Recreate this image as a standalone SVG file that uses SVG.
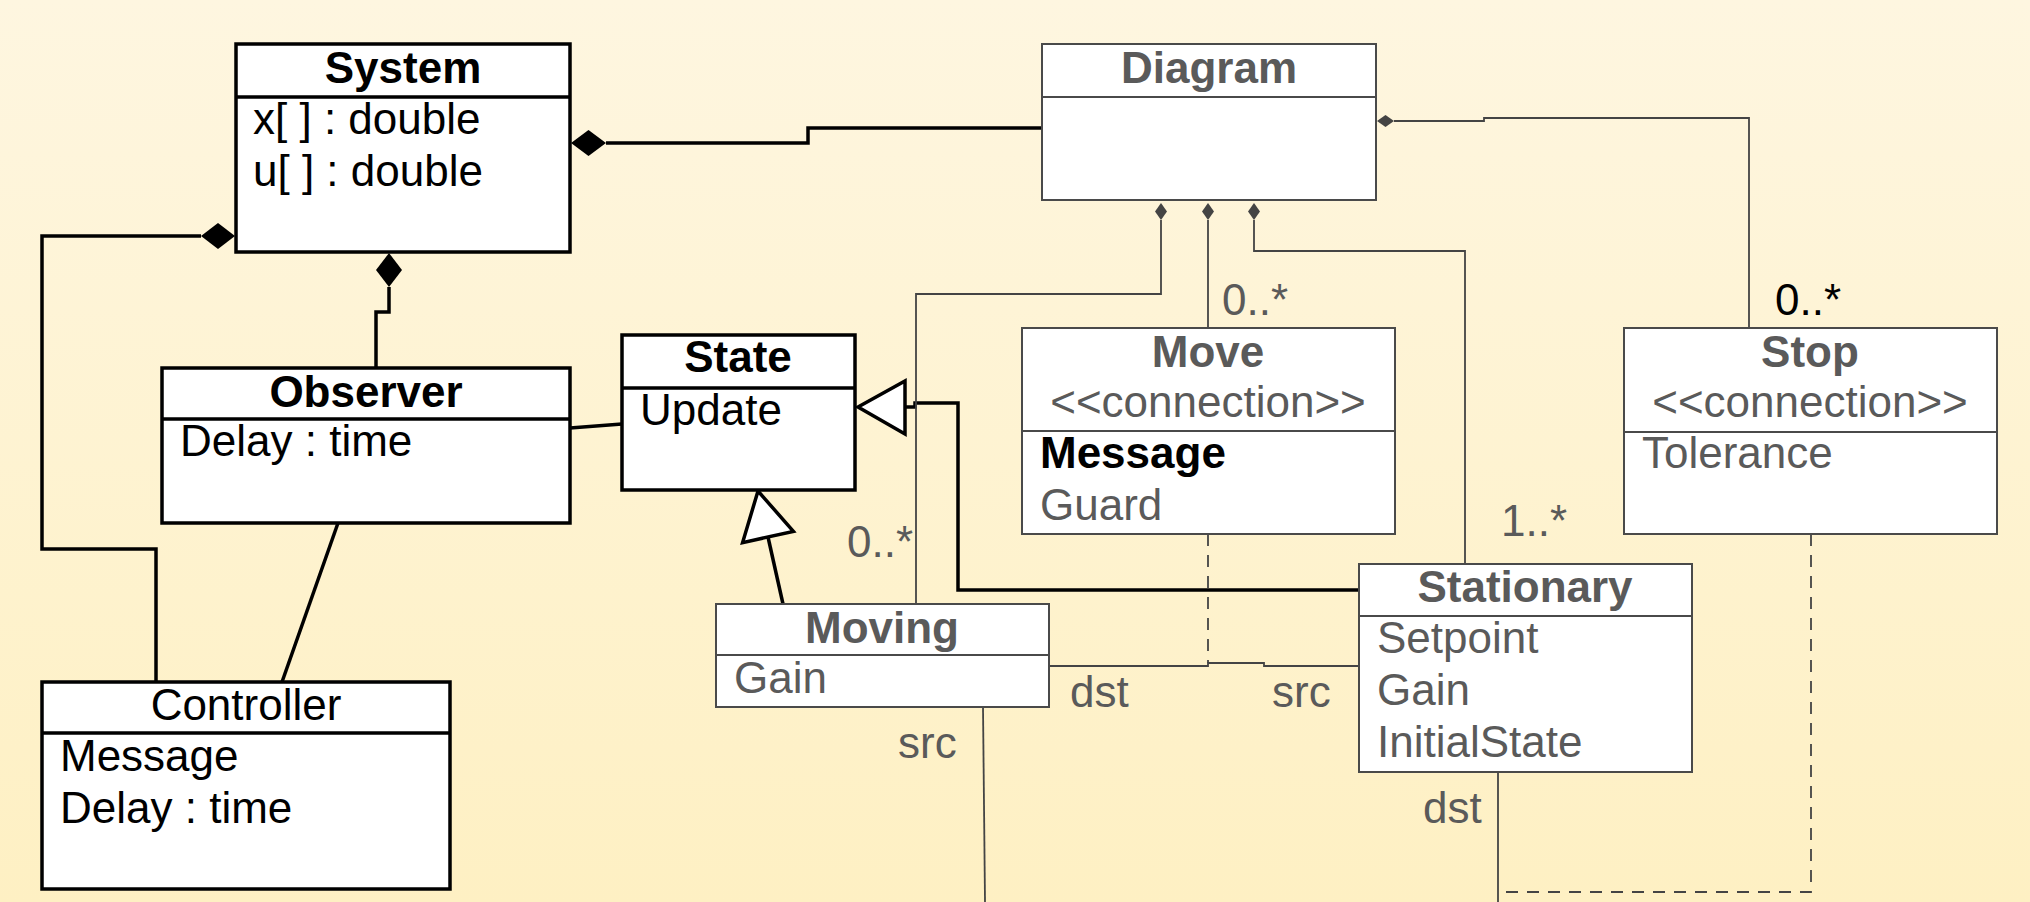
<svg xmlns="http://www.w3.org/2000/svg" width="2030" height="902" viewBox="0 0 2030 902">
  <defs>
    <linearGradient id="bg" x1="0" y1="0" x2="0" y2="1">
      <stop offset="0" stop-color="#FEF6E0"/>
      <stop offset="1" stop-color="#FEF0C3"/>
    </linearGradient>
    <style>
      text { font-family: "Liberation Sans", Arial, sans-serif; font-size: 44px; }
      .t { text-anchor: middle; font-weight: bold; }
      .k { fill: #000; }
      .g { fill: #5a5a5a; }
      .reg { font-weight: normal; }
      .boxk { fill: #fff; stroke: #000; stroke-width: 3.5; }
      .boxg { fill: #fff; stroke: #4a4a4a; stroke-width: 2; }
      .divk { stroke: #000; stroke-width: 3.5; }
      .divg { stroke: #4a4a4a; stroke-width: 2; }
      .thick { fill: none; stroke: #000; stroke-width: 3.5; }
      .thin { fill: none; stroke: #444; stroke-width: 1.8; }
      .dash { fill: none; stroke: #444; stroke-width: 1.8; stroke-dasharray: 12 9; }
      .dk { fill: #000; stroke: none; }
      .dg { fill: #444; stroke: none; }
      .tri { fill: #fff; stroke: #000; stroke-width: 3.5; }
    </style>
  </defs>

  <rect x="0" y="0" width="2030" height="902" fill="url(#bg)"/>

  <!-- connectors -->
  <g id="connectors">
    <!-- System compositions -->
    <path class="thick" d="M606,143 H808 V128 H1042"/>
    <polygon class="dk" points="571,143 588.5,130 606,143 588.5,156"/>
    <path class="thick" d="M201,236 H42 V549 H156 V682"/>
    <polygon class="dk" points="235,236 218,223 201,236 218,249"/>
    <path class="thick" d="M389,287 V312 H376 V368"/>
    <polygon class="dk" points="389,253 402,270 389,287 376,270"/>
    <!-- plain associations -->
    <path class="thick" d="M570,428 L622,424"/>
    <path class="thick" d="M338,523 L282,682"/>
    <!-- generalizations to State -->
    <path class="thick" d="M783,604 L768,537"/>
    <polygon class="tri" points="758,491 793.4,531.4 742.6,542.6"/>
    <path class="thick" d="M905,407 H915 V403 H958 V590 H1359"/>
    <polygon class="tri" points="858,407 905,381 905,434"/>
    <!-- Diagram compositions -->
    <path class="thin" d="M1394,121 H1484 V118 H1749 V328"/>
    <polygon class="dg" points="1377,121 1385.5,115 1394,121 1385.5,127"/>
    <path class="thin" d="M1161,220 V294 H916 V604"/>
    <polygon class="dg" points="1161,203 1167,211.5 1161,220 1155,211.5"/>
    <path class="thin" d="M1208,220 V328"/>
    <polygon class="dg" points="1208,203 1214,211.5 1208,220 1202,211.5"/>
    <path class="thin" d="M1254,220 V251 H1465 V564"/>
    <polygon class="dg" points="1254,203 1260,211.5 1254,220 1248,211.5"/>
    <!-- Move / Stop connection links -->
    <path class="thin" d="M1049,666 H1208 V663 H1264 V666 H1359"/>
    <path class="dash" d="M1208,534 V663"/>
    <path class="thin" d="M983,707 L985,902"/>
    <path class="thin" d="M1498,772 V902"/>
    <path class="dash" d="M1811,534 V892 H1498"/>

    <!-- multiplicities and role names -->
    <text class="g" x="1222" y="315">0..*</text>
    <text class="k" x="1775" y="315">0..*</text>
    <text class="g" x="847" y="557">0..*</text>
    <text class="g" x="1501" y="536">1..*</text>
    <text class="g" x="1070" y="707">dst</text>
    <text class="g" x="1272" y="707">src</text>
    <text class="g" x="898" y="758">src</text>
    <text class="g" x="1423" y="823">dst</text>
  </g>

  <g id="system">
    <rect class="boxk" x="236" y="44" width="334" height="208"/>
    <line class="divk" x1="236" y1="97" x2="570" y2="97"/>
    <text class="t k" x="403" y="83">System</text>
    <text class="k" x="253" y="134">x[ ] : double</text>
    <text class="k" x="253" y="186">u[ ] : double</text>
  </g>

  <g id="observer">
    <rect class="boxk" x="162" y="368" width="408" height="155"/>
    <line class="divk" x1="162" y1="419" x2="570" y2="419"/>
    <text class="t k" x="366" y="407">Observer</text>
    <text class="k" x="180" y="456">Delay : time</text>
  </g>

  <g id="controller">
    <rect class="boxk" x="42" y="682" width="408" height="207"/>
    <line class="divk" x1="42" y1="733" x2="450" y2="733"/>
    <text class="t k reg" x="246" y="720">Controller</text>
    <text class="k" x="60" y="771">Message</text>
    <text class="k" x="60" y="823">Delay : time</text>
  </g>

  <g id="state">
    <rect class="boxk" x="622" y="335" width="233" height="155"/>
    <line class="divk" x1="622" y1="388" x2="855" y2="388"/>
    <text class="t k" x="738" y="372">State</text>
    <text class="k" x="640" y="425">Update</text>
  </g>

  <g id="diagram">
    <rect class="boxg" x="1042" y="44" width="334" height="156"/>
    <line class="divg" x1="1042" y1="97" x2="1376" y2="97"/>
    <text class="t g" x="1209" y="83">Diagram</text>
  </g>

  <g id="move">
    <rect class="boxg" x="1022" y="328" width="373" height="206"/>
    <line class="divg" x1="1022" y1="431" x2="1395" y2="431"/>
    <text class="t g" x="1208" y="367">Move</text>
    <text class="t g reg" x="1208" y="417">&lt;&lt;connection&gt;&gt;</text>
    <text class="k" x="1040" y="468" font-weight="bold">Message</text>
    <text class="g" x="1040" y="520">Guard</text>
  </g>

  <g id="stop">
    <rect class="boxg" x="1624" y="328" width="373" height="206"/>
    <line class="divg" x1="1624" y1="432" x2="1997" y2="432"/>
    <text class="t g" x="1810" y="367">Stop</text>
    <text class="t g reg" x="1810" y="417">&lt;&lt;connection&gt;&gt;</text>
    <text class="g" x="1642" y="468">Tolerance</text>
  </g>

  <g id="moving">
    <rect class="boxg" x="716" y="604" width="333" height="103"/>
    <line class="divg" x1="716" y1="655" x2="1049" y2="655"/>
    <text class="t g" x="882" y="643">Moving</text>
    <text class="g" x="734" y="693">Gain</text>
  </g>

  <g id="stationary">
    <rect class="boxg" x="1359" y="564" width="333" height="208"/>
    <line class="divg" x1="1359" y1="616" x2="1692" y2="616"/>
    <text class="t g" x="1525" y="602">Stationary</text>
    <text class="g" x="1377" y="653">Setpoint</text>
    <text class="g" x="1377" y="705">Gain</text>
    <text class="g" x="1377" y="757">InitialState</text>
  </g>
</svg>
